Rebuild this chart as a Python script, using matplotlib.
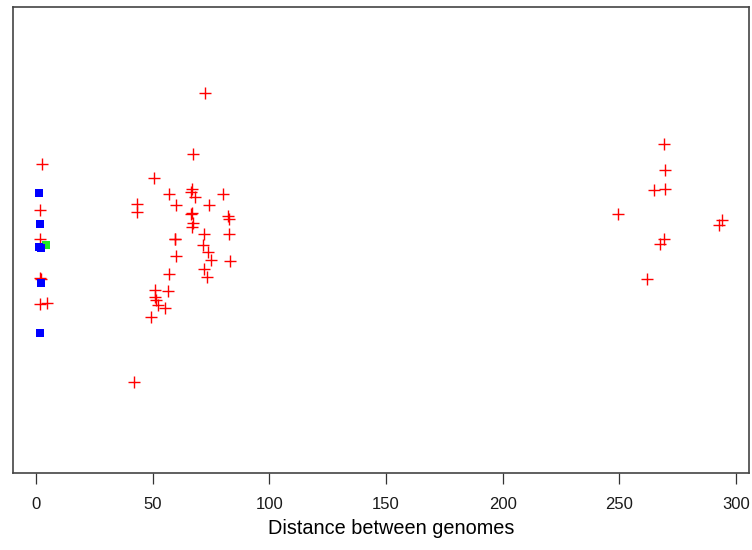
import numpy as np
import matplotlib
matplotlib.use('Agg')
import matplotlib.pyplot as plt

plt.rcParams['font.family'] = ['Liberation Sans', 'DejaVu Sans']

# pairs with different hosts (red), same host (blue), same strain (green)
red_x = [2.6, 1.7, 1.7, 1.7, 2.1, 1.7, 4.7,
         72.3, 67.4, 50.7, 56.9, 66.6, 66.9, 68.0, 80.3, 43.4, 43.2, 59.9, 74.3,
         66.9, 66.6, 82.2, 82.6, 67.2, 67.0, 59.7, 59.5, 72.0, 82.6, 71.7, 73.7,
         60.1, 75.1, 83.0, 72.0, 73.3, 56.9, 56.6, 51.1, 51.1, 51.3, 52.4, 55.3,
         49.2, 41.9,
         269.2, 269.6, 269.5, 264.8, 249.6, 293.9, 292.7, 269.2, 267.3, 261.9]
red_y = [.336, .290, .261, .222, .221, .196, .197,
         .407, .346, .322, .306, .308, .311, .303, .306, .296, .288, .295, .295,
         .287, .286, .284, .281, .277, .273, .261, .261, .266, .266, .255, .248,
         .244, .240, .239, .231, .223, .226, .209, .210, .203, .200, .195, .192,
         .183, .118,
         .356, .330, .311, .310, .286, .280, .275, .261, .256, .221]
blue_x = [1.3, 1.7, 1.3, 2.1, 2.1, 1.7]
blue_y = [.307, .276, .253, .252, .217, .167]
green_x = [4.3]
green_y = [.255]
xticks = [0, 50, 100, 150, 200, 250, 300]

fig = plt.figure(figsize=(7.52, 5.5), dpi=100)
ax = fig.add_axes([0.0169, 0.1405, 0.9795, 0.8462])

ax.plot(red_x, red_y, '+', color='red', ms=9, mew=1.0, ls='none')
ax.plot(green_x, green_y, 's', color='#22ee22', ms=6, mew=0, ls='none')
ax.plot(blue_x, blue_y, 's', color='blue', ms=6, mew=0, ls='none')

ax.set_xlim(-10, 305.7)
ax.set_ylim(0.0273, 0.4927)
ax.set_xticks(xticks)
ax.set_xticklabels([str(t) for t in xticks])
ax.set_yticks([])
ax.tick_params(axis='x', length=8, width=0.9, color='#333333', pad=9.6,
               labelsize=12, labelcolor='#1a1a1a')
for s in ax.spines.values():
    s.set_color('#444444')
    s.set_linewidth(1.2)
ax.set_xlabel('Distance between genomes', fontsize=14.3)
ax.xaxis.set_label_coords(0.5136, -0.100)

fig.savefig('out.png', dpi=100)
